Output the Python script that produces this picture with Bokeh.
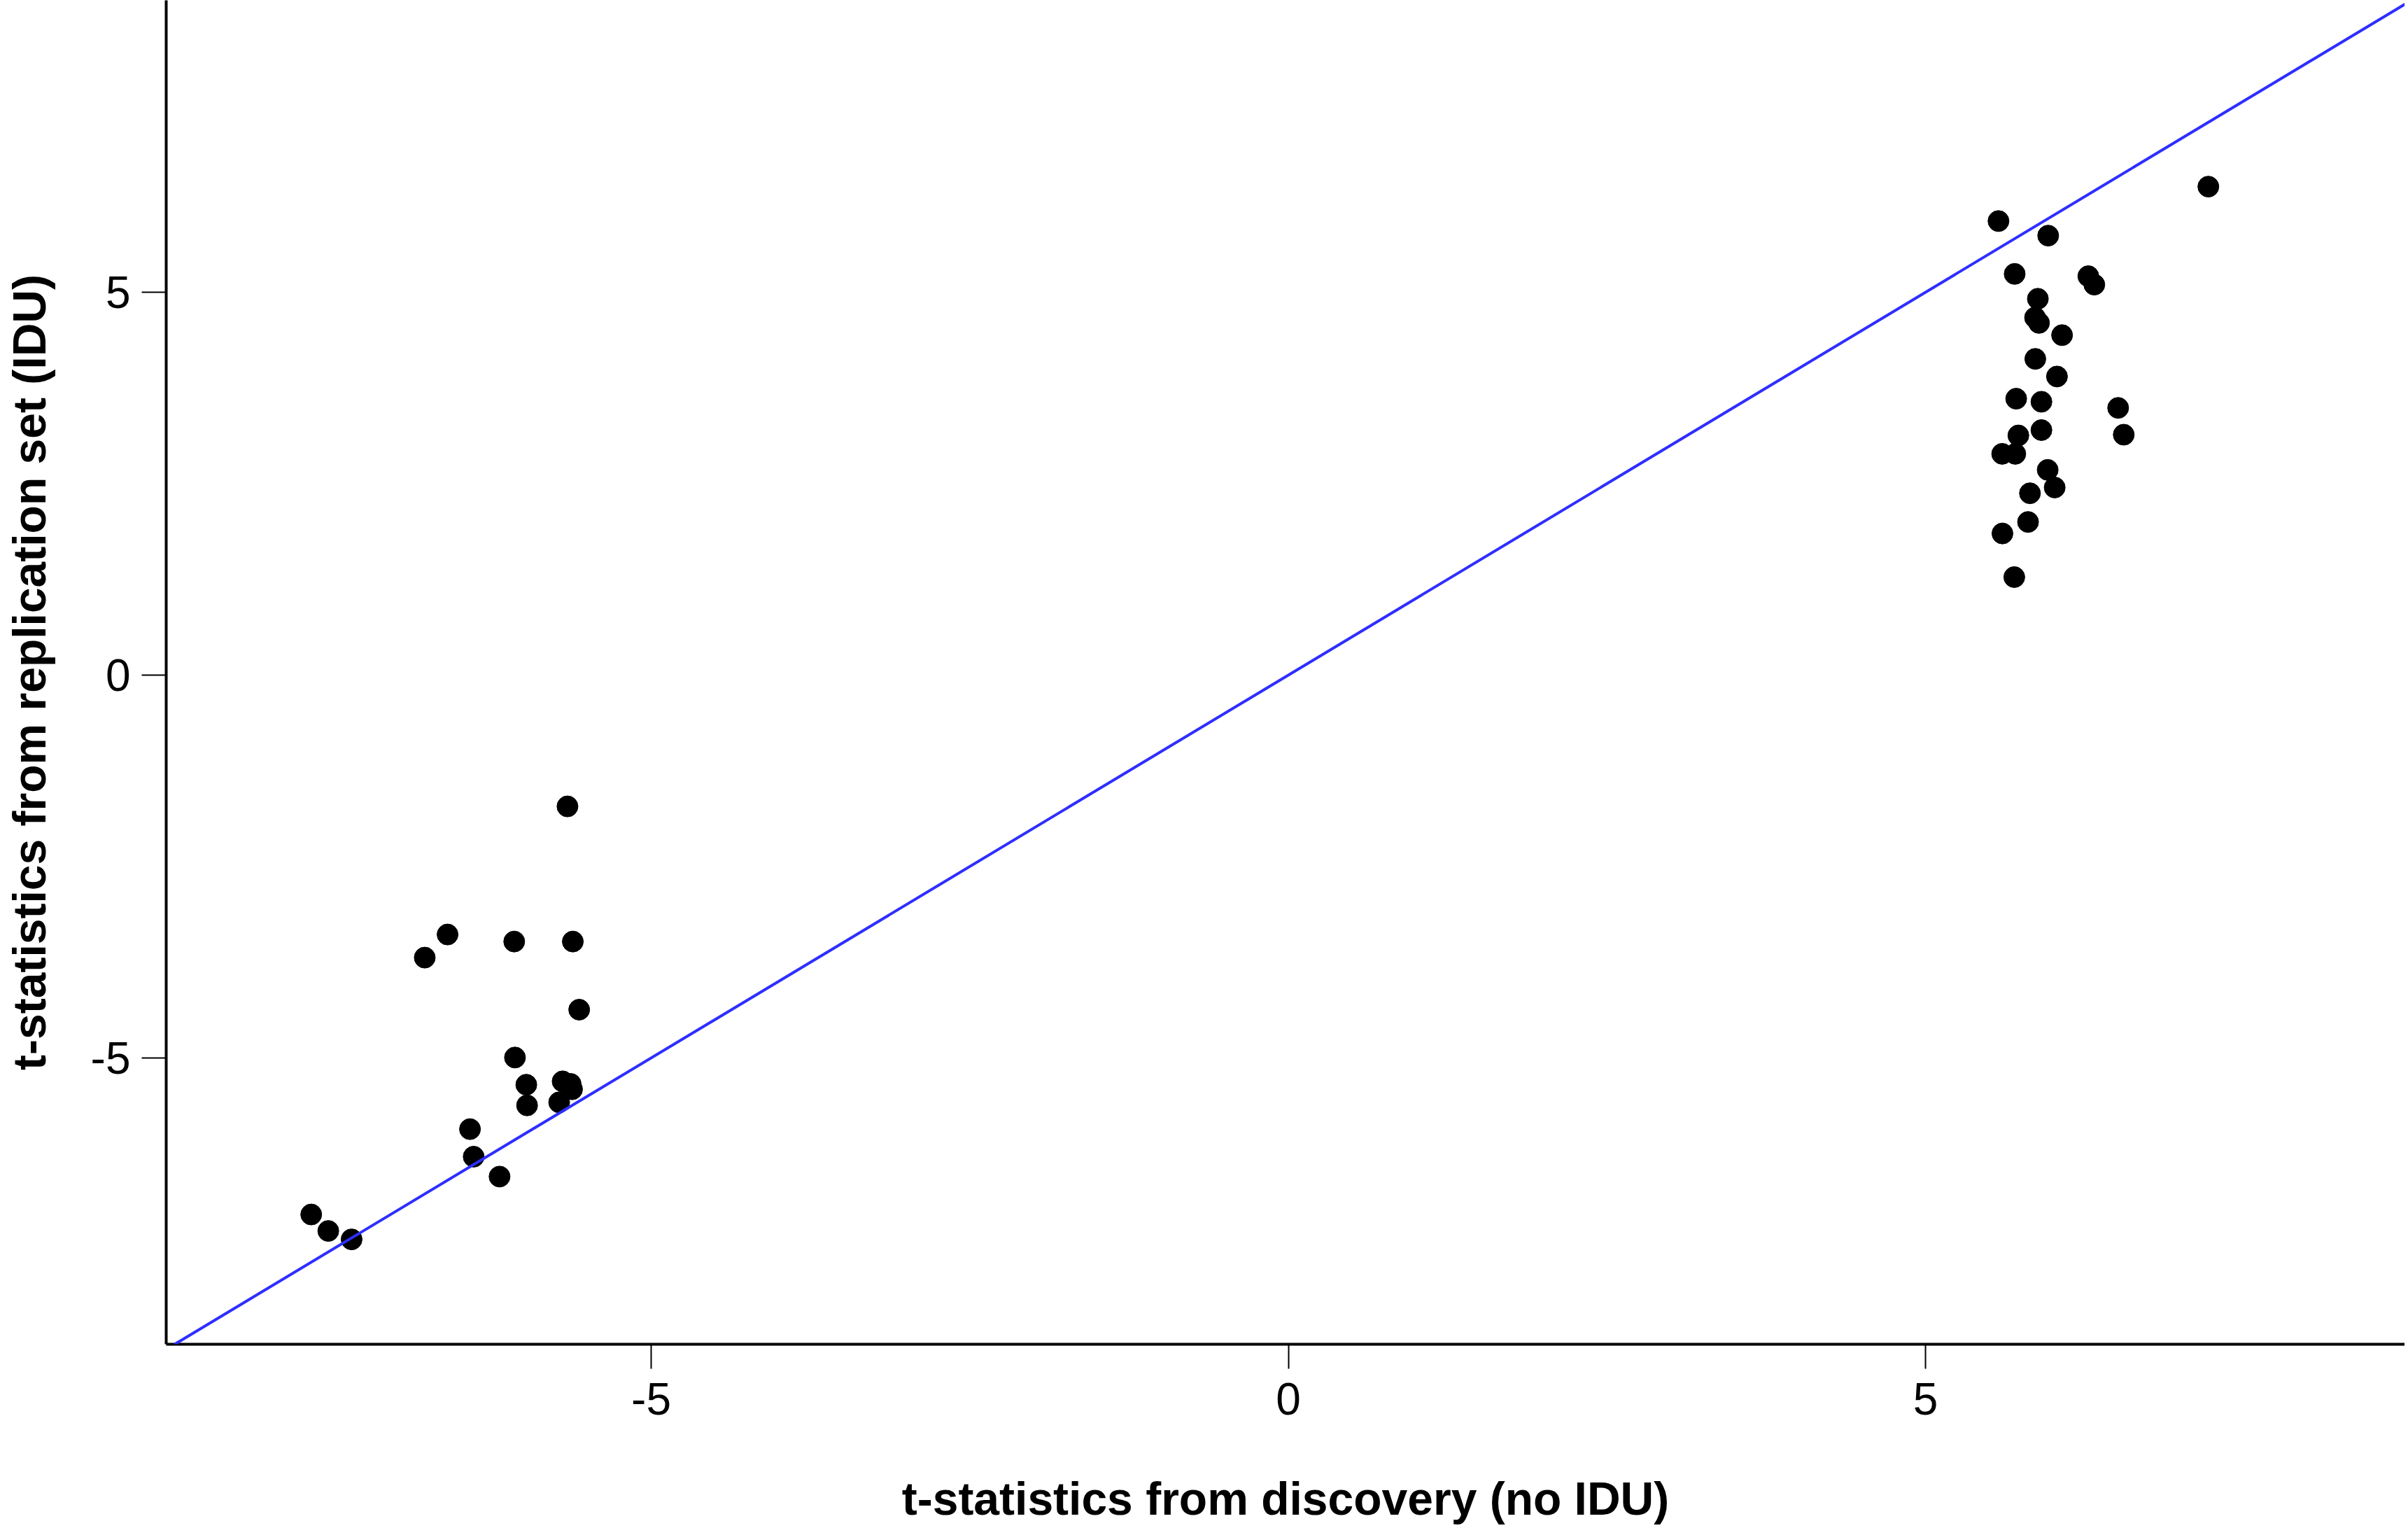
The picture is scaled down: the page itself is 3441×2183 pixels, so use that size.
from bokeh.plotting import figure
from bokeh.models import FixedTicker, Slope, Range1d
from bokeh.embed import file_html
from bokeh.resources import INLINE

# discovery t-statistics (no IDU) vs replication t-statistics (IDU)
pos_discovery = [7.22, 5.573, 5.963, 5.70, 6.278, 6.325, 5.882, 5.860, 5.891, 6.072,
                 5.862, 6.032, 5.712, 5.910, 6.512, 5.729, 5.910, 6.556, 5.602, 5.705,
                 5.959, 6.014, 5.82, 5.805, 5.604, 5.697]
pos_replication = [6.38, 5.93, 5.74, 5.24, 5.21, 5.10, 4.915, 4.67, 4.60, 4.44,
                   4.13, 3.90, 3.61, 3.57, 3.49, 3.13, 3.20, 3.14, 2.89, 2.89,
                   2.68, 2.45, 2.375, 2.00, 1.85, 1.28]
neg_discovery = [-5.657, -6.598, -6.777, -6.075, -5.615, -5.565, -6.069, -5.98, -5.974,
                 -5.695, -5.632, -5.621, -5.722, -6.422, -6.393, -6.19, -7.668, -7.534, -7.351]
neg_replication = [-1.715, -3.388, -3.69, -3.48, -3.48, -4.37, -4.995, -5.35, -5.62,
                   -5.306, -5.34, -5.41, -5.58, -5.93, -6.29, -6.55, -7.045, -7.26, -7.37]

x_ticks = [-5, 0, 5]
y_ticks = [-5, 0, 5]
tick_labels = {-5: "-5", 0: "0", 5: "5"}
x_label = "t-statistics from discovery (no IDU)"
y_label = "t-statistics from replication set (IDU)"

xs = pos_discovery + neg_discovery
ys = pos_replication + neg_replication

p = figure(width=3436, height=2180, output_backend="svg", toolbar_location=None,
           x_range=Range1d(-8.806, 8.762), y_range=Range1d(-8.74, 8.813),
           min_border_left=237, min_border_right=0, min_border_top=0, min_border_bottom=258)

p.scatter(xs, ys, size=30, color="black", line_color="black")
p.add_layout(Slope(gradient=1, y_intercept=0, line_color="#2e2eff", line_width=4))

p.grid.visible = False
p.outline_line_color = None
p.background_fill_color = "white"
p.border_fill_color = "white"

for ax, ticks in ((p.xaxis, x_ticks), (p.yaxis, y_ticks)):
    ax.ticker = FixedTicker(ticks=ticks)
    ax.major_label_overrides = tick_labels
    ax.minor_tick_line_color = None
    ax.major_tick_in = 0
    ax.major_tick_out = 35
    ax.major_tick_line_width = 2
    ax.axis_line_width = 4
    ax.major_label_text_font = "Liberation Sans"
    ax.major_label_text_font_size = "64px"
    ax.major_label_text_color = "black"
    ax.axis_label_text_font = "Liberation Sans"
    ax.axis_label_text_font_style = "bold"
    ax.axis_label_text_font_size = "66px"
    ax.axis_label_text_color = "black"

p.xaxis.axis_label = x_label
p.yaxis.axis_label = y_label
p.xaxis.major_label_standoff = 20
p.yaxis.major_label_standoff = 16
p.xaxis.axis_label_standoff = 80
p.yaxis.axis_label_standoff = 48

open("out.html", "w").write(file_html(p, INLINE))
